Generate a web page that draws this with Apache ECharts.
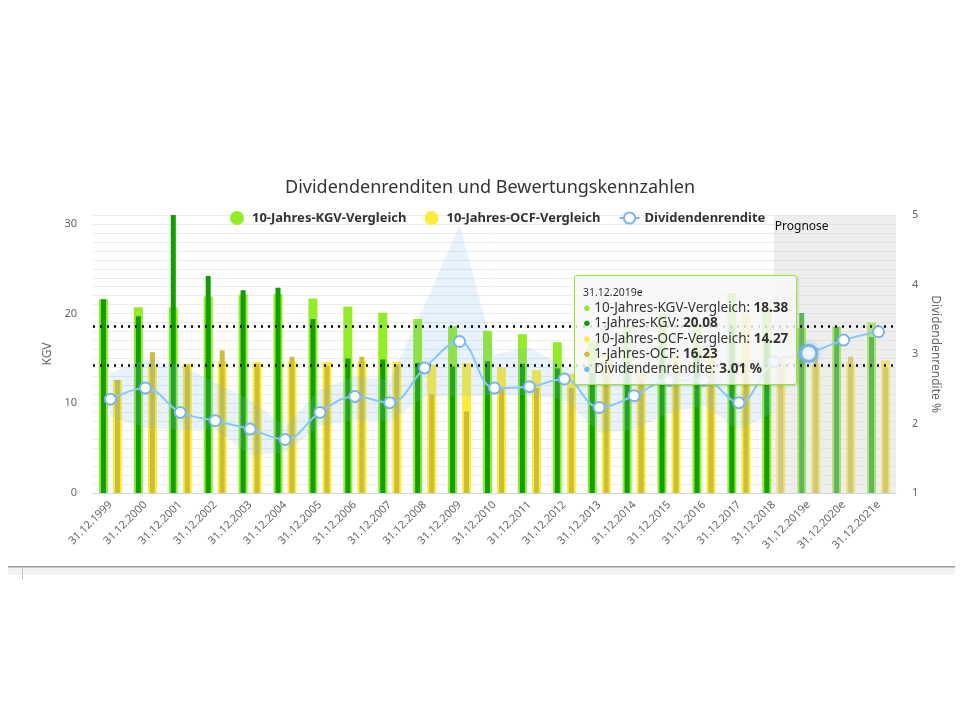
<!DOCTYPE html>
<html>
<head>
<meta charset="utf-8">
<script src="https://cdn.jsdelivr.net/npm/echarts@6/dist/echarts.min.js"></script>
<style>
  html, body { margin: 0; padding: 0; background: #fff; }
  #chart { width: 960px; height: 720px; }
</style>
</head>
<body>
<div id="chart"></div>
<script>
const categories = [
  "31.12.1999", "31.12.2000", "31.12.2001", "31.12.2002", "31.12.2003", "31.12.2004",
  "31.12.2005", "31.12.2006", "31.12.2007", "31.12.2008", "31.12.2009", "31.12.2010",
  "31.12.2011", "31.12.2012", "31.12.2013", "31.12.2014", "31.12.2015", "31.12.2016",
  "31.12.2017", "31.12.2018", "31.12.2019e", "31.12.2020e", "31.12.2021e"
];

// KGV / OCF (linke Achse)
const kgv10 = [21.6, 20.7, 20.7, 21.9, 22.1, 22.2, 21.7, 20.8, 20.1, 19.4, 18.6, 18.1, 17.7, 16.8, 16.9, 18.7, 20.0, 18.9, 22.3, 20.8, 18.38, 18.6, 19.0];
const kgv1  = [21.6, 19.7, 31.1, 24.2, 22.6, 22.9, 19.4, 15.0, 14.9, 14.5, 14.1, 14.7, 14.4, 13.9, 13.4, 14.6, 16.2, 15.8, 18.6, 17.3, 20.08, 18.5, 17.4];
const ocf10 = [12.6, 14.2, 14.4, 14.7, 14.6, 14.7, 14.6, 14.7, 14.6, 14.3, 14.5, 14.0, 13.7, 13.3, 15.6, 13.7, 15.4, 15.9, 20.0, 15.0, 14.27, 14.6, 14.8];
const ocf1  = [12.6, 15.7, 14.3, 15.9, 14.4, 15.2, 14.2, 15.2, 14.3, 11.0, 9.1, 11.6, 11.7, 11.7, 13.0, 12.8, 13.5, 14.0, 14.8, 14.0, 16.23, 15.2, 14.0];

// Dividendenrendite % (rechte Achse)
const divYield = [2.35, 2.51, 2.16, 2.04, 1.92, 1.77, 2.16, 2.39, 2.30, 2.80, 3.18, 2.51, 2.53, 2.64, 2.23, 2.40, 2.62, 2.62, 2.30, 2.89, 3.01, 3.20, 3.32];
const bandLow  = [2.10, 1.94, 1.91, 1.91, 1.55, 1.58, 1.96, 2.05, 2.03, 2.39, 2.39, 2.41, 2.41, 2.34, 1.87, 1.91, 2.16, 2.25, 1.91, 2.16, null, null, null];
const bandHigh = [2.73, 2.92, 2.85, 2.59, 2.34, 1.96, 2.49, 2.68, 2.63, 3.70, 4.86, 3.00, 3.09, 2.82, 2.61, 2.70, 2.80, 2.80, 2.54, 2.61, null, null, null];

// Durchschnittslinien (gepunktet)
const avgLines = [18.6, 14.3];

const prognoseFrom = categories.indexOf("31.12.2018");
const tipIndex = categories.indexOf("31.12.2019e");

const C_KGV10 = "#93eb2a";
const C_KGV1 = "#0f9f00";
const C_OCF10 = "#fcec3a";
const C_OCF1 = "#cdbe35";
const C_DIV = "#7cb5ec";
const FONT = "Noto Sans";

const bandRange = bandHigh.map((h, i) => (h == null || bandLow[i] == null) ? null : +(h - bandLow[i]).toFixed(2));

function fmt(v) { return Number(v).toFixed(2); }

const chart = echarts.init(document.getElementById("chart"));

chart.setOption({
  animation: false,
  textStyle: { fontFamily: FONT },
  title: {
    text: "Dividendenrenditen und Bewertungskennzahlen",
    left: 280, top: 174,
    textStyle: { fontFamily: FONT, fontSize: 18, fontWeight: "normal", color: "#333" }
  },
  legend: {
    data: [
      { name: "10-Jahres-KGV-Vergleich", icon: "circle" },
      { name: "10-Jahres-OCF-Vergleich", icon: "circle" },
      { name: "Dividendenrendite" }
    ],
    left: 225, top: 206,
    itemWidth: 20, itemHeight: 14, itemGap: 18,
    textStyle: { fontFamily: FONT, fontSize: 13, fontWeight: "bold", color: "#333" }
  },
  tooltip: {
    trigger: "item",
    triggerOn: "none",
    alwaysShowContent: true,
    transitionDuration: 0,
    position: [574, 275],
    backgroundColor: "rgba(247,247,247,0.85)",
    borderColor: C_KGV10,
    borderWidth: 1,
    padding: [9, 8, 8, 8],
    extraCssText: "border-radius:3px;box-shadow:1px 1px 3px rgba(0,0,0,0.15);",
    formatter: (p) => {
      const i = p.dataIndex;
      const dot = (c) => `<span style="color:${c};font-size:13px;">\u25CF</span>`;
      const row = (c, name, val) =>
        `<div style="line-height:15.3px;font-size:13.5px;color:#333;">${dot(c)} ${name}: <b>${val}</b></div>`;
      return `<div style="font-family:'${FONT}';">` +
        `<div style="font-size:10.5px;color:#333;line-height:14px;margin-bottom:1px;">${categories[i]}</div>` +
        row(C_KGV10, "10-Jahres-KGV-Vergleich", fmt(kgv10[i])) +
        row(C_KGV1, "1-Jahres-KGV", fmt(kgv1[i])) +
        row(C_OCF10, "10-Jahres-OCF-Vergleich", fmt(ocf10[i])) +
        row(C_OCF1, "1-Jahres-OCF", fmt(ocf1[i])) +
        row(C_DIV, "Dividendenrendite", fmt(divYield[i]) + " %") +
        `</div>`;
    }
  },
  grid: { left: 93, top: 215, width: 803, height: 278 },
  xAxis: [
    {
      type: "category", data: categories,
      axisLine: { lineStyle: { color: "#ccd6eb" } },
      axisTick: { length: 9, lineStyle: { color: "#ccd6eb" } },
      axisLabel: { rotate: 45, margin: 10, fontSize: 11, color: "#666", interval: 0 }
    },
    { type: "category", data: categories, show: false },
    { type: "value", min: -0.5, max: categories.length - 0.5, show: false }
  ],
  yAxis: [
    {
      type: "value", min: 0, max: 31, interval: 1,
      name: "KGV", nameLocation: "middle", nameGap: 39, nameRotate: 90,
      nameTextStyle: { fontSize: 12, color: "#666" },
      axisLine: { show: false }, axisTick: { show: false },
      axisLabel: { margin: 16, fontSize: 11, color: "#666", formatter: (v) => (v % 10 === 0 ? v : "") },
      splitLine: { lineStyle: { color: "#ececec" } }
    },
    {
      type: "value", min: 1, max: 5, interval: 1,
      name: "Dividendenrendite %", nameLocation: "middle", nameGap: 30, nameRotate: -90,
      nameTextStyle: { fontSize: 12, color: "#666" },
      axisLine: { show: false }, axisTick: { show: false },
      axisLabel: { margin: 16, fontSize: 11, color: "#666" },
      splitLine: { show: false }
    }
  ],
  series: [
    {
      name: "10-Jahres-KGV-Vergleich", type: "bar", xAxisIndex: 0, yAxisIndex: 0,
      barWidth: 9, barGap: "56%", z: 2, data: kgv10,
      itemStyle: { color: C_KGV10 }, emphasis: { disabled: true }
    },
    {
      name: "10-Jahres-OCF-Vergleich", type: "bar", xAxisIndex: 0, yAxisIndex: 0,
      barWidth: 9, barGap: "56%", z: 2, data: ocf10,
      itemStyle: { color: C_OCF10 }, emphasis: { disabled: true }
    },
    {
      name: "1-Jahres-KGV", type: "bar", xAxisIndex: 1, yAxisIndex: 0,
      barWidth: 5, barGap: "180%", z: 2, data: kgv1,
      itemStyle: { color: C_KGV1 }, emphasis: { disabled: true }
    },
    {
      name: "1-Jahres-OCF", type: "bar", xAxisIndex: 1, yAxisIndex: 0,
      barWidth: 5, barGap: "180%", z: 2, data: ocf1,
      itemStyle: { color: C_OCF1 }, emphasis: { disabled: true }
    },
    {
      name: "bandBase", type: "line", xAxisIndex: 0, yAxisIndex: 1, stack: "band",
      data: bandLow, symbol: "none", silent: true, z: 3,
      lineStyle: { opacity: 0 }, emphasis: { disabled: true }
    },
    {
      name: "bandRange", type: "line", xAxisIndex: 0, yAxisIndex: 1, stack: "band",
      data: bandRange, symbol: "none", silent: true, z: 3,
      lineStyle: { opacity: 0 },
      areaStyle: { color: "rgba(124,181,236,0.25)" },
      emphasis: { disabled: true }
    },
    {
      name: "prognose", type: "line", xAxisIndex: 2, yAxisIndex: 0, data: [], silent: true,
      markArea: {
        z: 3, silent: true,
        itemStyle: { color: "rgba(215,215,215,0.42)" },
        label: { show: true, position: "insideTopLeft", offset: [-4, 1], fontSize: 12, color: "#111", fontFamily: FONT },
        data: [[{ xAxis: prognoseFrom, name: "Prognose" }, { xAxis: categories.length - 0.5 }]]
      }
    },
    {
      name: "avg", type: "line", xAxisIndex: 0, yAxisIndex: 0, data: [], silent: true,
      markLine: {
        z: 4, silent: true, symbol: "none", label: { show: false },
        lineStyle: { color: "#000", type: [2, 5], width: 2.5 },
        data: avgLines.map((v) => ({ yAxis: v }))
      }
    },
    {
      name: "Dividendenrendite", type: "line", xAxisIndex: 0, yAxisIndex: 1, z: 5,
      data: divYield, smooth: 0.4,
      symbol: "circle", symbolSize: 11,
      lineStyle: { color: C_DIV, width: 2 },
      itemStyle: { color: "#fff", borderColor: C_DIV, borderWidth: 2 },
      emphasis: { scale: 1.45, itemStyle: { borderWidth: 3, shadowBlur: 6, shadowColor: "rgba(124,181,236,0.6)" } }
    }
  ],
  graphic: [
    { type: "rect", left: 8, top: 567, shape: { width: 947, height: 8 }, style: { fill: "#f2f2f2" }, silent: true },
    { type: "rect", left: 8, top: 566, shape: { width: 947, height: 1.5 }, style: { fill: "#9a9a9a" }, silent: true },
    { type: "rect", left: 22, top: 568, shape: { width: 1, height: 12 }, style: { fill: "#c8c8c8" }, silent: true }
  ]
});

const divSeries = 8;
chart.dispatchAction({ type: "highlight", seriesIndex: divSeries, dataIndex: tipIndex });
chart.dispatchAction({ type: "showTip", seriesIndex: divSeries, dataIndex: tipIndex });
</script>
</body>
</html>
